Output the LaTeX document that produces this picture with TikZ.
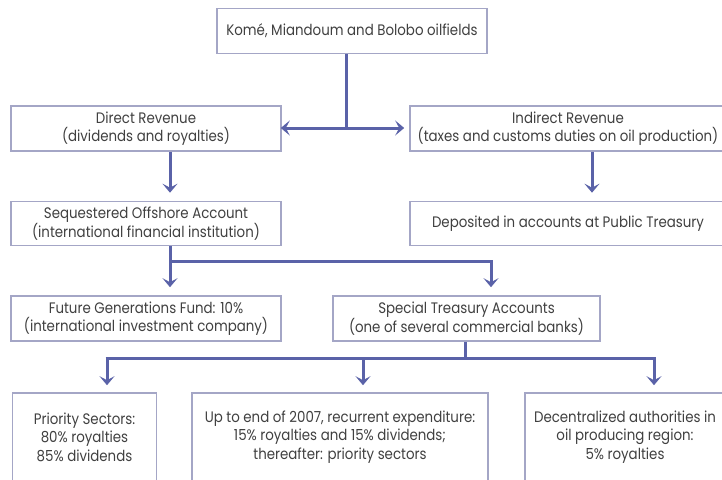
\documentclass[tikz,border=0pt]{standalone}
\usepackage{fontspec}
\setmainfont{Poppins}[FakeStretch=0.88]
\usetikzlibrary{arrows.meta}
\definecolor{arrowblue}{HTML}{5A62A8}
\definecolor{boxline}{HTML}{A4A6C6}
\definecolor{txt}{HTML}{404040}
\tikzset{
  box/.style={draw=boxline, line width=1.6pt, fill=white, align=center, text=txt,
    font=\fontsize{15.2}{18.5}\selectfont, inner sep=0pt},
  conn/.style={draw=arrowblue, line width=3pt},
  arr/.style={conn, -{Stealth[length=9pt,width=15pt,inset=4pt]}},
}
\begin{document}
\begin{tikzpicture}[x=1pt,y=-1pt]
\clip (0,0) rectangle (722,479);
\fill[white] (0,0) rectangle (722,479);

\node[box, minimum width=270pt, minimum height=45pt] (top) at (352,31) {Komé, Miandoum and Bolobo oilfields};
\node[box, minimum width=270pt, minimum height=45pt] (direct) at (146,128.5) {Direct Revenue\\(dividends and royalties)};
\node[box, minimum width=316pt, minimum height=45pt] (indirect) at (568,128.5) {Indirect Revenue\\(taxes and customs duties on oil production)};
\node[box, minimum width=270pt, minimum height=44pt] (seq) at (146,223.5) {Sequestered Offshore Account\\(international financial institution)};
\node[box, minimum width=316pt, minimum height=44pt] (dep) at (568,223.5) {Deposited in accounts at Public Treasury};
\node[box, minimum width=270pt, minimum height=45pt] (future) at (146,318.5) {Future Generations Fund: 10\%\\(international investment company)};
\node[box, minimum width=267pt, minimum height=45pt] (special) at (466.5,318.5) {Special Treasury Accounts\\(one of several commercial banks)};
\node[box, minimum width=144pt, minimum height=88pt] (prio) at (84.5,437) {Priority Sectors:\\80\% royalties\\85\% dividends};
\node[box, minimum width=296pt, minimum height=88pt] (mid) at (340,437) {Up to end of 2007, recurrent expenditure:\\15\% royalties and 15\% dividends;\\thereafter: priority sectors};
\node[box, minimum width=200pt, minimum height=88pt] (right) at (625,437) {Decentralized authorities in\\oil producing region:\\5\% royalties};

% top split
\coordinate (j1) at (346,128);
\draw[conn] (top.south -| j1) -- (j1);
\draw[arr, shorten >=-1pt] (j1) -- (direct.east |- j1);
\draw[arr, shorten >=5pt] (j1) -- (indirect.west |- j1);

% direct / indirect down
\coordinate (ca) at (170,150);
\coordinate (cb) at (592,150);
\draw[arr, shorten >=8pt] (direct.south -| ca) -- (seq.north -| ca);
\draw[arr, shorten >=8pt] (indirect.south -| cb) -- (dep.north -| cb);

% sequestered split
\coordinate (j2) at (170,261);
\coordinate (j3) at (491,261);
\draw[conn] (seq.south -| j2) -- (j2) -- ([xshift=1.5pt]j3);
\draw[arr, shorten >=8pt] (j2) -- (future.north -| j2);
\draw[arr, shorten >=8pt] (j3) -- (special.north -| j3);

% special split
\coordinate (k0) at (465,358);
\coordinate (k1) at (107,358);
\coordinate (k2) at (363,358);
\coordinate (k3) at (654,358);
\draw[conn] (special.south -| k0) -- (k0);
\draw[conn] ([xshift=-1.5pt]k1) -- ([xshift=1.5pt]k3);
\draw[arr, shorten >=7pt] (k1) -- (prio.north -| k1);
\draw[arr, shorten >=7pt] (k2) -- (mid.north -| k2);
\draw[arr, shorten >=7pt] (k3) -- (right.north -| k3);
\end{tikzpicture}
\end{document}
